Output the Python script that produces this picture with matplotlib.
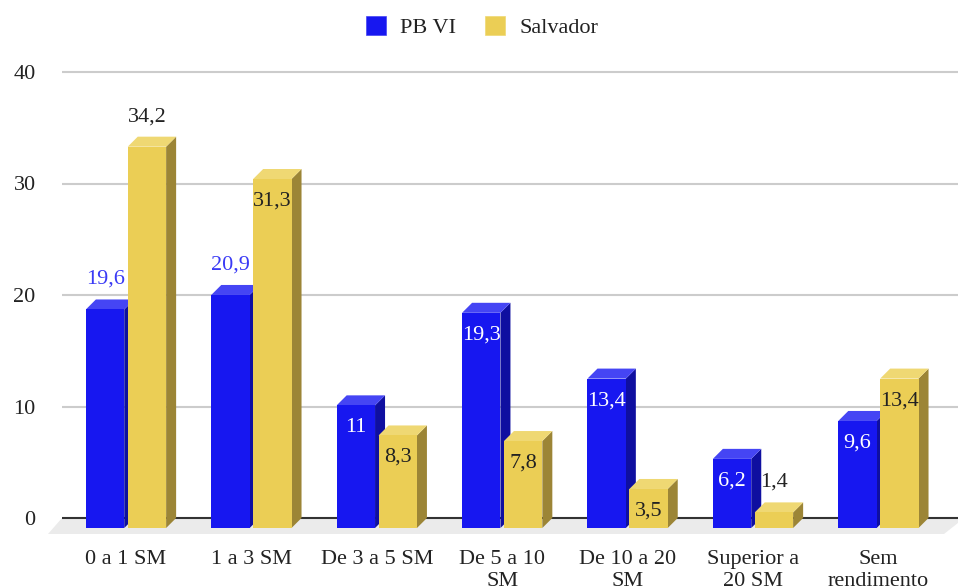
import numpy as np
import matplotlib.pyplot as plt
from matplotlib.patches import Polygon, Patch

# dados: distribuicao por faixa de renda (%)
categorias = ["0 a 1 SM", "1 a 3 SM", "De 3 a 5 SM", "De 5 a 10\nSM",
              "De 10 a 20\nSM", "Superior a\n20 SM", "Sem\nrendimento"]
pb_vi = [19.6, 20.9, 11, 19.3, 13.4, 6.2, 9.6]
salvador = [34.2, 31.3, 8.3, 7.8, 3.5, 1.4, 13.4]
series_nomes = ["PB VI", "Salvador"]

# cores das faces (frente, topo, lateral)
cores = {
    "PB VI": ("#1717f0", "#4545f4", "#0f0fa0"),
    "Salvador": ("#ebce55", "#efd873", "#9c8536"),
}

# rotulos que ficam acima da barra (serie, indice)
fora = {(0, 0), (0, 1), (1, 0), (1, 5)}

plt.rcParams['font.family'] = ['Liberation Serif', 'DejaVu Serif']
fs = 16

W, H = 958, 588
fig = plt.figure(figsize=(W / 100, H / 100), dpi=100)

# eixo em pixels: esquerda 62, direita 958, y=0 em 518, 40 em 72
px_x = 125.4
px_y = 11.15
x0_pix = 126
left, right = 62, 958
top_pix, bot_pix = 60, 540
ax = fig.add_axes([left / W, (H - bot_pix) / H, (right - left) / W, (bot_pix - top_pix) / H])
ax.set_xlim(-(x0_pix - left) / px_x, (right - x0_pix) / px_x)
ax.set_ylim(-(bot_pix - 518) / px_y, (518 - top_pix) / px_y)

dx = 10 / px_x   # profundidade 3D
dy = 10 / px_y
w = 0.306
g = 0.014

for sp in ax.spines.values():
    sp.set_visible(False)

# linhas de grade
for yv in [10, 20, 30, 40]:
    ax.axhline(yv, color="#cccccc", lw=1.5, zorder=0)

# piso
xa, xb = ax.get_xlim()
fd = 16 / px_y
fx = 14 / px_x
piso = Polygon([(xa, 0), (xb + 0.05, 0), (xb - fx, -fd), (xa - fx, -fd)],
               closed=True, facecolor="#ebebeb", edgecolor="none", zorder=1, clip_on=False)
ax.add_patch(piso)
ax.axhline(0, color="#333333", lw=1.5, zorder=2)


def barra3d(x, v, cf, ct, cl):
    frente = Polygon([(x, -dy), (x + w, -dy), (x + w, v - dy), (x, v - dy)],
                     facecolor=cf, edgecolor="none", zorder=3)
    topo = Polygon([(x, v - dy), (x + w, v - dy), (x + w + dx, v), (x + dx, v)],
                   facecolor=ct, edgecolor="none", zorder=3)
    lado = Polygon([(x + w, -dy), (x + w + dx, 0), (x + w + dx, v), (x + w, v - dy)],
                   facecolor=cl, edgecolor="none", zorder=3)
    for p in (lado, topo, frente):
        ax.add_patch(p)


x = np.arange(len(categorias))
for i in range(len(categorias)):
    for s, valores in enumerate([pb_vi, salvador]):
        nome = series_nomes[s]
        xs = x[i] - g - w if s == 0 else x[i] + g
        v = valores[i]
        cf, ct, cl = cores[nome]
        barra3d(xs, v, cf, ct, cl)
        txt = ("%g" % v).replace(".", ",")
        if (s, i) in fora:
            yl = v - dy + 30 / px_y
            cor = "#3a3af5" if s == 0 else "#222222"
        else:
            yl = v - dy - 22 / px_y
            cor = "white" if s == 0 else "#222222"
        ax.text(xs + w / 2, yl, txt, ha="center", va="center", fontsize=fs,
                color=cor, zorder=5)

ax.set_yticks([0, 10, 20, 30, 40])
ax.set_yticklabels(["0", "10", "20", "30", "40"], fontsize=fs, color="#222222")
ax.set_xticks(x)
ax.set_xticklabels(categorias, fontsize=fs, color="#222222", linespacing=1.2)
ax.tick_params(axis="y", length=0, pad=19)
ax.tick_params(axis="x", length=0, pad=7)

handles = [Patch(facecolor=cores[n][0], edgecolor=cores[n][1], lw=0.5) for n in series_nomes]
fig.legend(handles, series_nomes, loc="center", bbox_to_anchor=(482 / W, 1 - 27 / H),
           ncol=2, frameon=False, fontsize=fs, handlelength=0.9, handleheight=0.9,
           handletextpad=0.65, columnspacing=1.3, labelcolor="#222222")

fig.savefig("out.png", dpi=100)
